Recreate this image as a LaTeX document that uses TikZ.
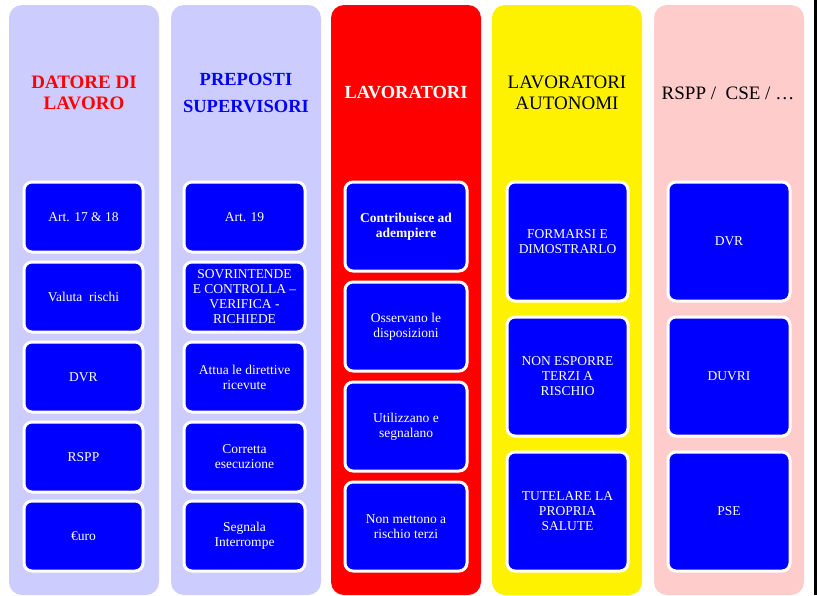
\documentclass[tikz,border=0pt]{standalone}
\usepackage{fontspec}
\setmainfont{LiberationSerif}[Extension=.ttf, UprightFont=*-Regular, BoldFont=*-Bold, ItalicFont=*-Italic, BoldItalicFont=*-BoldItalic]
\definecolor{lav}{HTML}{CCCCFF}
\definecolor{pinkc}{HTML}{FFCCCC}
\definecolor{boxblue}{HTML}{0000FF}
\begin{document}
\begin{tikzpicture}[x=1pt,y=-1pt,
  colbox/.style={rounded corners=13pt},
  item/.style={draw=white, line width=3pt, fill=boxblue, rounded corners=8pt},
  itemtxt/.style={text=white, align=center, font=\rmfamily\fontsize{13.5}{15}\selectfont, inner sep=0pt},
  ttl/.style={align=center, inner sep=0pt}]
\useasboundingbox (0,0) rectangle (817,595);
\fill[white] (0,0) rectangle (817,595);
\fill[black] (814,0) rectangle (817,595);
% columns
\fill[lav, colbox] (9,5) rectangle (159,595);
\fill[lav, colbox] (171,5) rectangle (321,595);
\fill[red, colbox] (331,5) rectangle (481,595);
\fill[yellow, colbox] (492,5) rectangle (642,595);
\fill[pinkc, colbox] (654,5) rectangle (804,595);
% titles
\node[ttl, text=red, font=\rmfamily\bfseries\fontsize{19}{20.5}\selectfont] (t1) at (84,93) {DATORE DI\\LAVORO};
\node[ttl, text=boxblue, font=\rmfamily\bfseries\fontsize{18.5}{27.5}\selectfont] (t2) at (246,93) {PREPOSTI\\SUPERVISORI};
\node[ttl, text=white, font=\rmfamily\bfseries\fontsize{18.5}{20}\selectfont] (t3) at (406,93) {LAVORATORI};
\node[ttl, text=black, font=\rmfamily\fontsize{19}{20.5}\selectfont] (t4) at (567,93) {LAVORATORI\\AUTONOMI};
\node[ttl, text=black, font=\rmfamily\fontsize{19}{20}\selectfont] (t5) at (728,93) {RSPP /\ \ CSE / …};
% column 1
\foreach \y/\t [count=\i] in {182/{Art. 17 \& 18}, 262/{Valuta\ \ rischi}, 342/DVR, 422/RSPP, 501/€uro}{
  \draw[item] (24,\y) rectangle (143,\y+70);
  \node[itemtxt] (a\i) at (83.5,\y+35) {\t};
}
% column 2
\foreach \y/\t [count=\i] in {182/{Art. 19}, 262/{SOVRINTENDE\\E CONTROLLA –\\VERIFICA -\\RICHIEDE}, 342/{Attua le direttive\\ricevute}, 422/{Corretta\\esecuzione}, 501/{Segnala\\Interrompe}}{
  \draw[item] (184,\y) rectangle (305,\y+70);
  \node[itemtxt] (b\i) at (244.5,\y+35) {\t};
}
% column 3
\draw[item] (345,182) rectangle (467,271);
\node[itemtxt, font=\rmfamily\bfseries\fontsize{13.5}{15}\selectfont] (c1) at (406,226.5) {Contribuisce ad\\adempiere};
\foreach \y/\t [count=\i from 2] in {282/{Osservano le\\disposizioni}, 382/{Utilizzano e\\segnalano}, 482/{Non mettono a\\rischio terzi}}{
  \draw[item] (345,\y) rectangle (467,\y+89);
  \node[itemtxt] (c\i) at (406,\y+44.5) {\t};
}
% column 4
\foreach \y/\t [count=\i] in {182/{FORMARSI E\\DIMOSTRARLO}, 317/{NON ESPORRE\\TERZI A\\RISCHIO}, 452/{TUTELARE LA\\PROPRIA\\SALUTE}}{
  \draw[item] (507,\y) rectangle (628,\y+119);
  \node[itemtxt] (d\i) at (567.5,\y+59.5) {\t};
}
% column 5
\foreach \y/\t [count=\i] in {182/DVR, 317/DUVRI, 452/PSE}{
  \draw[item] (668,\y) rectangle (790,\y+119);
  \node[itemtxt] (e\i) at (729,\y+59.5) {\t};
}
\end{tikzpicture}
\end{document}
